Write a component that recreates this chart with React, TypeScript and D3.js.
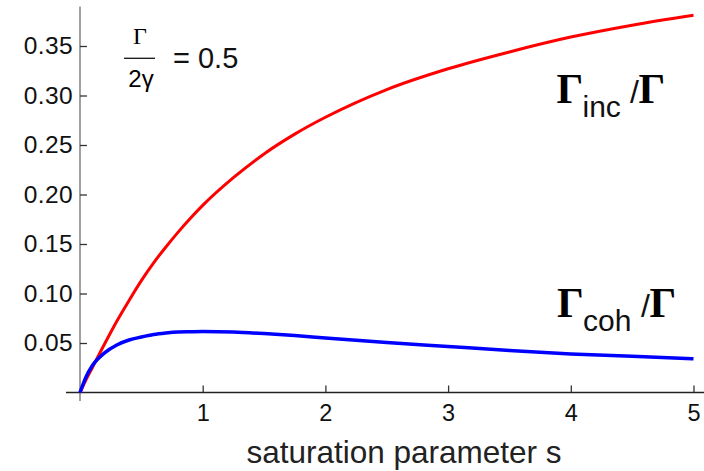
import * as d3 from "d3";
import { useEffect, useRef } from "react";

// saturation parameter s (x) and the two rates
const sValues = [0, 0.05, 0.1, 0.2, 0.3, 0.4, 0.5, 0.6, 0.7, 0.8, 0.9, 1.0, 1.25, 1.5, 1.75, 2, 2.5, 3, 3.5, 4, 4.5, 5];
const incValues = [0, 0.013, 0.025, 0.049, 0.072, 0.093, 0.113, 0.131, 0.147, 0.162, 0.176, 0.189, 0.217, 0.241, 0.261, 0.278, 0.306, 0.327, 0.344, 0.359, 0.371, 0.381];
const cohValues = [0, 0.016, 0.027, 0.04, 0.048, 0.053, 0.056, 0.0585, 0.06, 0.061, 0.0613, 0.0615, 0.061, 0.0595, 0.0575, 0.055, 0.0505, 0.0465, 0.0425, 0.039, 0.0365, 0.034];

const xTicks = [1, 2, 3, 4, 5];
const yTicks = [0.05, 0.1, 0.15, 0.2, 0.25, 0.3, 0.35];

const width = 704,
    height = 471;

const sans = "'Liberation Sans', Arial, Helvetica, sans-serif";
const serif = "'Liberation Serif', 'Times New Roman', serif";

export default function App() {
    const svgRef = useRef<SVGSVGElement>(null);

    // Scales
    const x = d3.scaleLinear().domain([0, 5]).range([80, 693.5]);
    const y = d3.scaleLinear().domain([0, 0.39]).range([392.5, 6.4]);

    useEffect(() => {
        const svg = d3.select(svgRef.current);
        svg.selectAll("*").remove();

        // y axis: grey spine, ticks pointing inward, labels left
        svg.append("line")
            .attr("x1", x(0)).attr("x2", x(0))
            .attr("y1", y(0.39)).attr("y2", 401)
            .attr("stroke", "#8a8a8a")
            .attr("stroke-width", 1.6);

        // x axis spine
        svg.append("line")
            .attr("x1", 66).attr("x2", width)
            .attr("y1", y(0)).attr("y2", y(0))
            .attr("stroke", "#222")
            .attr("stroke-width", 1.6);

        const yAxis = svg.append("g")
            .attr("transform", `translate(${x(0)},0)`)
            .call(d3.axisLeft(y).tickValues(yTicks).tickFormat(d3.format(".2f")).tickSizeInner(-7).tickSizeOuter(0).tickPadding(7));
        yAxis.select(".domain").remove();
        yAxis.selectAll(".tick line").attr("stroke", "#333").attr("stroke-width", 1.3);
        yAxis.selectAll(".tick text")
            .attr("fill", "#111")
            .style("font-family", sans)
            .style("font-size", "24.5px")
            .style("letter-spacing", "0.4px");

        const xAxis = svg.append("g")
            .attr("transform", `translate(0,${y(0)})`)
            .call(d3.axisBottom(x).tickValues(xTicks).tickFormat(d3.format("d")).tickSizeInner(-7).tickSizeOuter(0).tickPadding(12));
        xAxis.select(".domain").remove();
        xAxis.selectAll(".tick line").attr("stroke", "#333").attr("stroke-width", 1.3);
        xAxis.selectAll(".tick text")
            .attr("fill", "#111")
            .style("font-family", sans)
            .style("font-size", "23.5px");

        svg.append("text")
            .attr("x", 404)
            .attr("y", 463)
            .attr("text-anchor", "middle")
            .attr("fill", "#222")
            .style("font-family", sans)
            .style("font-size", "31.5px")
            .text("saturation parameter s");

        // curves
        const line = d3.line<number>()
            .x((d, i) => x(sValues[i]))
            .y(d => y(d))
            .curve(d3.curveMonotoneX);

        svg.append("path")
            .attr("d", line(incValues))
            .attr("fill", "none")
            .attr("stroke", "#ff0000")
            .attr("stroke-width", 3);

        svg.append("path")
            .attr("d", line(cohValues))
            .attr("fill", "none")
            .attr("stroke", "#0000ff")
            .attr("stroke-width", 3.5);

        // annotation Γ/2γ = 0.5
        const ann = svg.append("g");
        ann.append("text")
            .attr("x", 140).attr("y", 44)
            .attr("text-anchor", "middle")
            .style("font-family", serif)
            .style("font-size", "24px")
            .text("Γ");
        ann.append("line")
            .attr("x1", 124).attr("x2", 155)
            .attr("y1", 58.3).attr("y2", 58.3)
            .attr("stroke", "#111")
            .attr("stroke-width", 1.3);
        ann.append("text")
            .attr("x", 141).attr("y", 87)
            .attr("text-anchor", "middle")
            .style("font-family", sans)
            .style("font-size", "24px")
            .text("2γ");
        ann.append("text")
            .attr("x", 173).attr("y", 68.3)
            .attr("fill", "#111")
            .style("font-family", sans)
            .style("font-size", "29px")
            .text("= 0.5");

        // curve labels
        const labels = [
            { sub: "inc", gx: 556.5, base: 103, slashX: 630 },
            { sub: "coh", gx: 557, base: 317, slashX: 641 },
        ];
        labels.forEach(l => {
            const g = svg.append("g");
            g.append("text")
                .attr("x", l.gx).attr("y", l.base)
                .style("font-family", serif)
                .style("font-weight", "bold")
                .style("font-size", "42px")
                .text("Γ");
            g.append("text")
                .attr("x", l.gx + 26).attr("y", l.base + 14)
                .attr("fill", "#111")
                .style("font-family", sans)
                .style("font-size", "30px")
                .text(l.sub);
            g.append("text")
                .attr("x", l.slashX).attr("y", l.base)
                .attr("fill", "#111")
                .style("font-family", sans)
                .style("font-size", "32px")
                .text("/");
            g.append("text")
                .attr("x", l.slashX + 8.5).attr("y", l.base)
                .style("font-family", serif)
                .style("font-weight", "bold")
                .style("font-size", "42px")
                .text("Γ");
        });
    }, []);

    return (
        <svg
            ref={svgRef}
            width={width}
            height={height}
            style={{ position: "absolute", left: 0, top: 0, background: "#fff" }}
        />
    );
}
